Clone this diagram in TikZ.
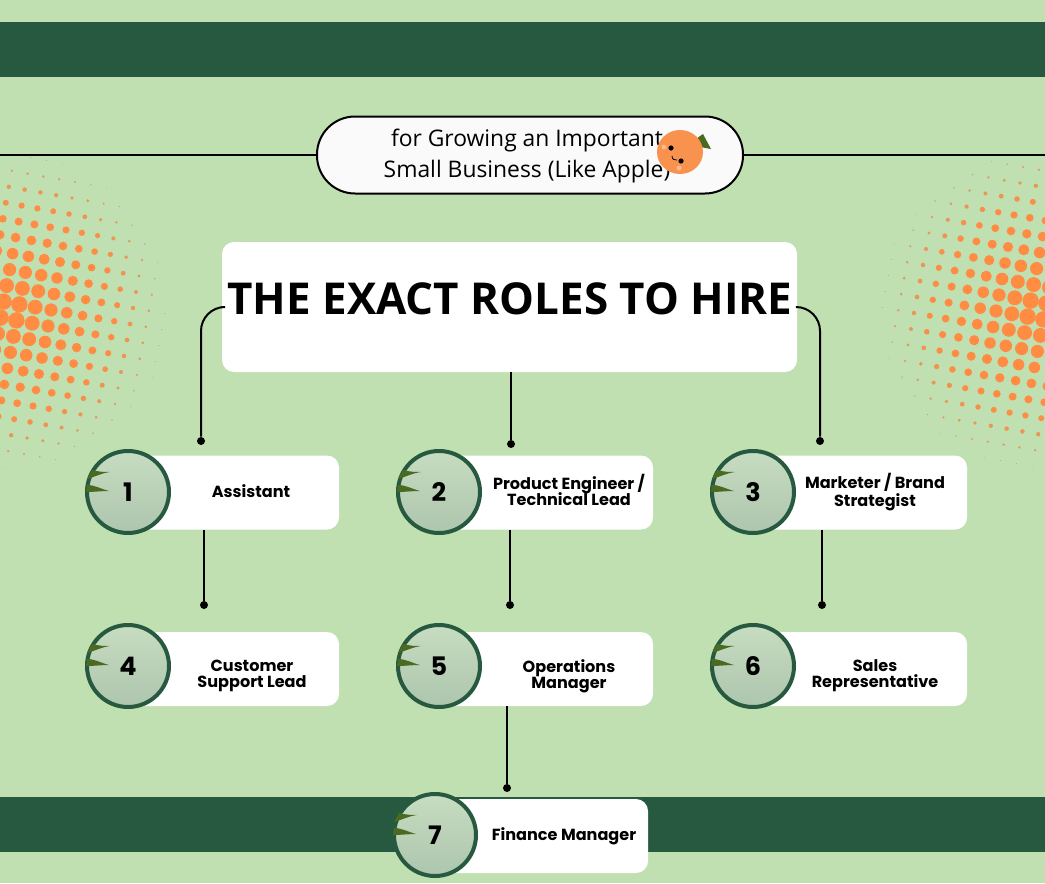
\documentclass[tikz,border=0pt]{standalone}
\usepackage{fontspec}
\setmainfont{Poppins}
\newfontfamily\opensans{Open Sans}
\lineskiplimit=-6pt
\definecolor{bgreen}{HTML}{C1E0B2}
\definecolor{dgreen}{HTML}{265940}
\definecolor{dorange}{HTML}{FF8C42}
\definecolor{dtan}{HTML}{C9A878}
\definecolor{fruit}{HTML}{F9924E}
\definecolor{leafc}{HTML}{4A6A22}
\definecolor{numtop}{HTML}{C6DDC1}
\definecolor{numbot}{HTML}{AEC5AE}
\tikzset{
  card/.style={fill=white,rounded corners=2.4mm,minimum width=214*0.2mm,minimum height=74*0.2mm,inner sep=0pt},
  num/.style={shape=circle,draw=dgreen,line width=0.8mm,top color=numtop,bottom color=numbot,minimum size=82*0.2mm,inner sep=0pt,font=\bfseries\fontsize{14.5}{14.5}\selectfont},
  lab/.style={align=center,inner sep=0pt,font=\bfseries\fontsize{9.15}{9.1}\selectfont},
  dotend/.style={shape=circle,fill=black,minimum size=8*0.2mm,inner sep=0pt},
  conn/.style={draw=black,line width=0.4mm}
}
\begin{document}
\begin{tikzpicture}[x=0.2mm,y=-0.2mm]
\useasboundingbox (0,0) rectangle (1045,883);
\fill[bgreen] (0,0) rectangle (1045,883);
\fill[dgreen] (0,22) rectangle (1045,77);
\fill[dgreen] (0,797) rectangle (1045,852);
% halftone patches
\begin{scope}
\clip (0,0) rectangle (1045,883);
\foreach \cx/\cy in {10/311,1037/310}
  \foreach \i in {-10.5,-9.5,...,10.5}
    \foreach \j in {-10.5,-9.5,...,10.5} {
      \pgfmathsetmacro{\dotdx}{15.8*\i-3*\j}
      \pgfmathsetmacro{\dotdy}{2.8*\i+16*\j}
      \pgfmathsetmacro{\dotd}{veclen(\dotdx,\dotdy)}
      \pgfmathsetmacro{\dotr}{8.8*(1-\dotd/165)}
      \ifdim\dotr pt>0.4pt
        \pgfmathsetmacro{\dotp}{min(100,\dotr*30)}
        \fill[dorange!\dotp!dtan] (\cx+\dotdx,\cy+\dotdy) circle (\dotr);
      \fi
    }
\end{scope}
% header
\coordinate (ll) at (0,155);
\coordinate (lr) at (1045,155);
\node (pill) at (530,155) [draw=black,fill=white!98!black,line width=0.4mm,rounded corners=7.6mm,minimum width=426*0.2mm,minimum height=77*0.2mm] {};
\draw [conn] (ll) -- (pill.west);
\draw [conn] (pill.east) -- (lr);
\node (sub) at (527,156) [align=center,inner sep=0pt,font=\opensans\fontsize{13}{17.7}\selectfont] {for Growing an Important\\Small Business (Like Apple)};
% fruit
\fill[leafc] (693,141) -- (703,134) -- (711,149) -- (700,147) -- cycle;
\fill[fruit] (680,152) ellipse (23 and 22);
\fill[black] (671,148) circle (2.6);
\fill[black] (681,161) circle (2.6);
\draw[black,line width=0.15mm] (672,156) .. controls (672,160) and (675,160) .. (677,160);
\fill[white,opacity=.35] (664,147) circle (2.5);
\fill[white,opacity=.35] (679,168) circle (2.5);
% title
\node (title) at (509.5,307) [card,minimum width=575*0.2mm,minimum height=130*0.2mm] {};
\node (titletxt) at (510,299) [inner sep=0pt,font=\opensans\bfseries\fontsize{25}{25}\selectfont] {THE EXACT ROLES TO HIRE};
% cards
\node (c1) at (232,492.5) [card] {};
\node (c2) at (546,492.5) [card] {};
\node (c3) at (860,492.5) [card] {};
\node (c4) at (232,669) [card] {};
\node (c5) at (546,669) [card] {};
\node (c6) at (860,669) [card] {};
\node (c7) at (541,836) [card] {};
\node (n1) at (128,492) [num] {1};
\node (n2) at (439,492) [num] {2};
\node (n3) at (753,492) [num] {3};
\node (n4) at (128,666) [num] {4};
\node (n5) at (439,666) [num] {5};
\node (n6) at (753,666) [num] {6};
\node (n7) at (435,835) [num] {7};
\foreach \c in {n1,n2,n3,n4,n5,n6,n7} {
  \fill[leafc] (\c) ++(-36,-22) .. controls +(8,2) and +(-6,0) .. ++(18,2) .. controls +(-8,1) and +(10,-3) .. ++(-23,7) -- cycle;
  \fill[leafc] (\c) ++(-41,-7) .. controls +(8,0) and +(-8,-2) .. ++(22,6) .. controls +(-8,0) and +(8,0) .. ++(-23,1) -- cycle;
}
\node (l1) at (251,491) [lab] {Assistant};
\node (l2) at (569,489.5) [lab] {Product Engineer /\\Technical Lead};
\node (l3) at (875,492) [lab] {Marketer / Brand\\[1.1pt]Strategist};
\node (l4) at (252,676) [lab] {Customer\\Support Lead};
\node (l5) at (569,676) [lab] {Operations\\Manager};
\node (l6) at (875,676) [lab] {Sales\\Representative};
\node (l7) at (564,836) [lab] {Finance Manager};
% connectors
\node (d1) at (201,441) [dotend] {};
\node (d2) at (511,444) [dotend] {};
\node (d3) at (820,441) [dotend] {};
\node (d4) at (204,605) [dotend] {};
\node (d5) at (510,605) [dotend] {};
\node (d6) at (822,605) [dotend] {};
\node (d7) at (507,788) [dotend] {};
\draw [conn,rounded corners=4.8mm] (title.west) -| (d1);
\draw [conn,rounded corners=4.8mm] (title.east) -| (d3);
\draw [conn] (title.south -| d2) -- (d2);
\draw [conn] (c1.south -| d4) -- (d4);
\draw [conn] (c2.south -| d5) -- (d5);
\draw [conn] (c3.south -| d6) -- (d6);
\draw [conn] (c5.south -| d7) -- (d7);
\end{tikzpicture}
\end{document}
